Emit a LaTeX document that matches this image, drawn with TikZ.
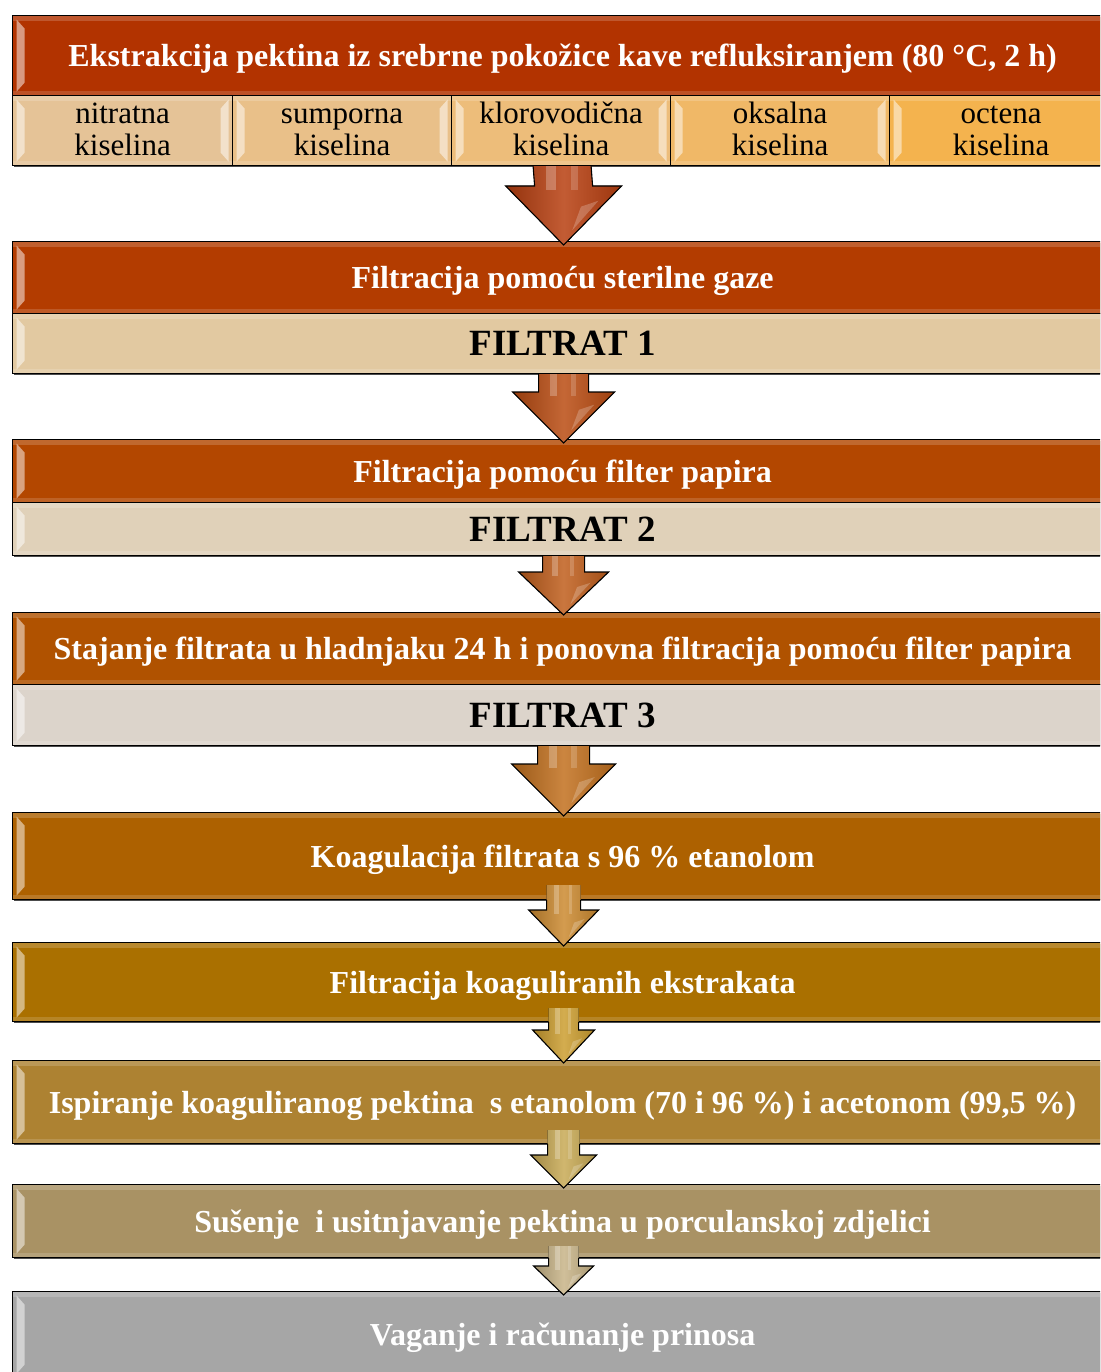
\documentclass[tikz,border=0pt]{standalone}
\usepackage{fontspec}
\setmainfont{Liberation Serif}
\usetikzlibrary{calc,shadows}
\definecolor{cA}{HTML}{B23300}
\definecolor{cB}{HTML}{B33C00}
\definecolor{cC}{HTML}{B34700}
\definecolor{cD}{HTML}{B05200}
\definecolor{cE}{HTML}{AD6100}
\definecolor{cF}{HTML}{AA7000}
\definecolor{cG}{HTML}{AD8232}
\definecolor{cH}{HTML}{A99264}
\definecolor{cI}{HTML}{A6A6A6}
\definecolor{fA}{HTML}{E2C9A1}
\definecolor{fB}{HTML}{E0D1B9}
\definecolor{fC}{HTML}{DCD4CB}
\definecolor{k1}{HTML}{E5C397}
\definecolor{k2}{HTML}{E9C089}
\definecolor{k3}{HTML}{EDBD7A}
\definecolor{k4}{HTML}{F0B867}
\definecolor{k5}{HTML}{F4B34E}
\definecolor{aA}{HTML}{B83F10}
\definecolor{aB}{HTML}{BA4C12}
\definecolor{aC}{HTML}{C05E1C}
\definecolor{aD}{HTML}{C2701E}
\definecolor{aE}{HTML}{CC8A30}
\definecolor{aF}{HTML}{CC9E30}
\definecolor{aG}{HTML}{C8AA55}
\definecolor{aH}{HTML}{C8B488}
\tikzset{
  bevel/.style={path picture={
    \fill[white,opacity=.18] (path picture bounding box.north west) rectangle ([yshift=-5pt]path picture bounding box.north east);
    \fill[white,opacity=.15] (path picture bounding box.south west) rectangle ([yshift=5pt]path picture bounding box.south east);
    \fill[white,opacity=.5] ([xshift=4pt,yshift=-4pt]path picture bounding box.north west) -- ([xshift=12pt,yshift=-13pt]path picture bounding box.north west) -- ([xshift=12pt,yshift=13pt]path picture bounding box.south west) -- ([xshift=4pt,yshift=4pt]path picture bounding box.south west) -- cycle;
    \fill[white,opacity=.5] ([xshift=-4pt,yshift=-4pt]path picture bounding box.north east) -- ([xshift=-12pt,yshift=-13pt]path picture bounding box.north east) -- ([xshift=-12pt,yshift=13pt]path picture bounding box.south east) -- ([xshift=-4pt,yshift=4pt]path picture bounding box.south east) -- cycle;
  }},
  box/.style={draw=black, line width=1.2pt, anchor=north west, inner sep=0pt,
    minimum width=1100pt, text=white, align=center,
    font=\bfseries\fontsize{32}{34}\selectfont,
    drop shadow={shadow xshift=1.5pt,shadow yshift=-1.5pt,fill=black,opacity=.7},
    bevel},
  stepbox/.style={box, text height=26pt, text depth=4pt},
  fbox/.style={box, text=black, font=\bfseries\fontsize{37}{38}\selectfont},
  cell/.style={box, text=black, font=\fontsize{31}{32}\selectfont},
  arrfill/.style={left color=#1!80!black, right color=#1!85!black, middle color=#1!85!white},
  arrline/.style={draw=black, line width=1.1pt, line join=miter},
}
\newcommand\ta{\rule{0pt}{25pt}}
\newcommand\tb{\rule[-7pt]{0pt}{7pt}}
% #1 from, #2 to, #3 shaft half, #4 head half, #5 head length, #6 shaft overlap, #7 tip overlap, #8 colour
\newcommand\flowarr[8]{%
  \fill[arrfill=#8]
    ($(#2.north)+(1,#7)$) -- ++(-#4,-#5) -- ++({#4-#3},0)
    -- ($(#1.south)+({1-#3},-#6)$) -- ++({2*#3},0)
    -- ($(#2.north)+({1+#3},{#7-#5})$) -- ++({#4-#3},0) -- cycle;
  \fill[white,opacity=.25]
    ($(#1.south)+({1-0.55*#3},-#6)$) rectangle ($(#2.north)+({1-0.25*#3},{#7-#5+4})$);
  \fill[white,opacity=.18]
    ($(#1.south)+({1+0.3*#3},-#6)$) rectangle ($(#2.north)+({1+0.5*#3},{#7-#5+4})$);
  \fill[white,opacity=.22]
    ($(#2.north)+({1+0.3*#4},{#7-0.65*#5})$) -- ($(#2.north)+({1+0.6*#4},{#7-0.75*#5})$)
    -- ($(#2.north)+({1+0.15*#4},{#7-0.25*#5})$) -- cycle;
  \draw[arrline]
    ($(#1.south)+({1-#3},0)$) -- ($(#2.north)+({1-#3},{#7-#5})$) -- ++({#3-#4},0)
    -- ($(#2.north)+(1,#7)$) -- ++(#4,-#5) -- ++({#3-#4},0) -- ($(#1.south)+({1+#3},0)$);
}
\begin{document}
\begin{tikzpicture}[x=1pt,y=-1pt]
\useasboundingbox (0,0) rectangle (1100,1372);
\clip (0,0) rectangle (1100,1372);
% boxes
\node[stepbox, fill=cA, minimum height=80pt] (b1) at (12,15) {Ekstrakcija pektina iz srebrne pokožice kave refluksiranjem (80 °C, 2 h)};
\node[cell, fill=k1, minimum width=220pt, minimum height=70pt] (c1) at (12,95) {\ta nitratna\\kiselina\tb};
\node[cell, fill=k2, minimum width=219pt, minimum height=70pt] (c2) at (232,95) {\ta sumporna\\kiselina\tb};
\node[cell, fill=k3, minimum width=219pt, minimum height=70pt] (c3) at (451,95) {\ta klorovodična\\kiselina\tb};
\node[cell, fill=k4, minimum width=219pt, minimum height=70pt] (c4) at (670,95) {\ta oksalna\\kiselina\tb};
\node[cell, fill=k5, minimum width=223pt, minimum height=70pt] (c5) at (889,95) {\ta octena\\kiselina\tb};
\node[stepbox, fill=cB, minimum height=72pt] (b2) at (12,241) {Filtracija pomoću sterilne gaze};
\node[fbox, fill=fA, minimum height=60pt] (f1) at (12,313) {FILTRAT 1};
\node[stepbox, fill=cC, minimum height=63pt] (b3) at (12,439) {Filtracija pomoću filter papira};
\node[fbox, fill=fB, minimum height=53pt] (f2) at (12,502) {FILTRAT 2};
\node[stepbox, fill=cD, minimum height=72pt] (b4) at (12,612) {Stajanje filtrata u hladnjaku 24 h i ponovna filtracija pomoću filter papira};
\node[fbox, fill=fC, minimum height=61pt] (f3) at (12,684) {FILTRAT 3};
\node[stepbox, fill=cE, minimum height=87pt] (b5) at (12,812) {Koagulacija filtrata s 96 \% etanolom};
\node[stepbox, fill=cF, minimum height=79pt] (b6) at (12,942) {Filtracija koaguliranih ekstrakata};
\node[stepbox, fill=cG, minimum height=83pt] (b7) at (12,1060) {Ispiranje koaguliranog pektina \ s etanolom (70 i 96 \%) i acetonom (99,5 \%)};
\node[stepbox, fill=cH, minimum height=73pt] (b8) at (12,1184) {Sušenje \ i usitnjavanje pektina u porculanskoj zdjelici};
\node[stepbox, fill=cI, minimum height=86pt] (b9) at (12,1291) {Vaganje i računanje prinosa};
% arrows
\flowarr{c3}{b2}{29}{58}{59}{0}{4}{aA}
\flowarr{f1}{b3}{25}{51}{51}{0}{4}{aB}
\flowarr{f2}{b4}{21}{45}{43}{0}{3}{aC}
\flowarr{f3}{b5}{26}{52}{52}{0}{4}{aD}
\flowarr{b5}{b6}{17}{35}{36}{15}{4}{aE}
\flowarr{b6}{b7}{15}{31}{33}{14}{3}{aF}
\flowarr{b7}{b8}{16}{33}{33}{14}{4}{aG}
\flowarr{b8}{b9}{15}{30}{29}{12}{4}{aH}
\end{tikzpicture}
\end{document}
